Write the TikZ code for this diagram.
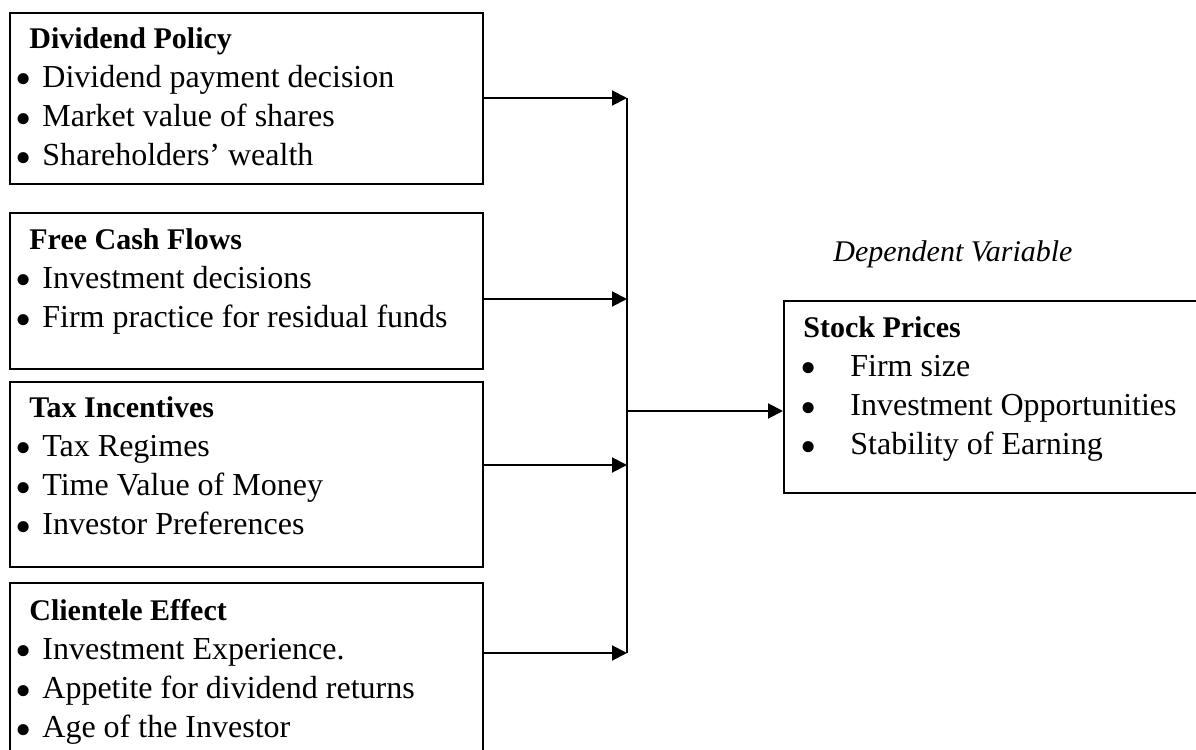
\documentclass[tikz,border=0pt]{standalone}
\usepackage{fontspec}
\setmainfont{Liberation Serif}
\usetikzlibrary{arrows.meta}
\newcommand{\bul}{\raisebox{-3.7pt}{\scalebox{1.45}{\textbullet}}}
\newcommand{\itm}[1]{\makebox[12pt][l]{\hspace{-1.5pt}\bul}#1}
\newcommand{\itmw}[1]{\makebox[23.5pt][l]{\hspace{-1.5pt}\bul}#1}
\newcommand{\ttl}[1]{{\fontsize{15}{19.65}\selectfont\textbf{#1}}}
\begin{document}
\begin{tikzpicture}[x=0.5pt,y=-0.5pt,
  boxnode/.style={draw,line width=1pt,inner sep=0pt,anchor=north west,minimum width=236.5pt},
  txtnode/.style={anchor=base west,inner sep=0pt,font=\fontsize{16}{19.65}\selectfont},
  arr/.style={line width=1pt,-{Triangle[length=7.5pt,width=7.5pt]}},
  ln/.style={line width=1pt}]
\useasboundingbox (0,0) rectangle (1196,750);
\clip (0,0) rectangle (1196,750);
% boxes
\node[boxnode,minimum height=85.5pt] (b1) at (8.5,12) {};
\node[boxnode,minimum height=78pt] (b2) at (8.5,212) {};
\node[boxnode,minimum height=92.5pt] (b3) at (8.5,381) {};
\node[boxnode,minimum height=90pt] (b4) at (8.5,582) {};
\node[boxnode,minimum width=212pt,minimum height=96pt] (sp) at (783,300) {};
% texts
\node[txtnode] (t1) at (18,48) {\begin{tabular}[t]{@{}l@{}}
\hspace{5.5pt}\ttl{Dividend Policy}\\
\itm{Dividend payment decision}\\
\itm{Market value of shares}\\
\itm{Shareholders’ wealth}
\end{tabular}};
\node[txtnode] (t2) at (18,249) {\begin{tabular}[t]{@{}l@{}}
\hspace{5.5pt}\ttl{Free Cash Flows}\\
\itm{Investment decisions}\\
\itm{Firm practice for residual funds}
\end{tabular}};
\node[txtnode] (t3) at (18,417) {\begin{tabular}[t]{@{}l@{}}
\hspace{5.5pt}\ttl{Tax Incentives}\\
\itm{Tax Regimes}\\
\itm{Time Value of Money}\\
\itm{Investor Preferences}
\end{tabular}};
\node[txtnode] (t4) at (18,620) {\begin{tabular}[t]{@{}l@{}}
\hspace{5.5pt}\ttl{Clientele Effect}\\
\itm{Investment Experience.}\\
\itm{Appetite for dividend returns}\\
\itm{Age of the Investor}
\end{tabular}};
\node[txtnode] (ts) at (803,337) {\begin{tabular}[t]{@{}l@{}}
\ttl{Stock Prices}\\
\itmw{Firm size}\\
\itmw{Investment Opportunities}\\
\itmw{Stability of Earning}
\end{tabular}};
\node[txtnode,font=\fontsize{15}{19.65}\selectfont] (dv) at (833,261) {\textit{Dependent Variable}};
% connectors
\coordinate (j1) at (627,98);
\coordinate (j2) at (627,299);
\coordinate (j3) at (627,465);
\coordinate (j4) at (627,653);
\coordinate (jm) at (627,411);
\draw[arr] (b1.east |- j1) -- (j1);
\draw[arr] (b2.east |- j2) -- (j2);
\draw[arr] (b3.east |- j3) -- (j3);
\draw[arr] (b4.east |- j4) -- (j4);
\draw[ln] (j1) -- (j4);
\draw[arr] (jm) -- (sp.west |- jm);
\end{tikzpicture}
\end{document}
